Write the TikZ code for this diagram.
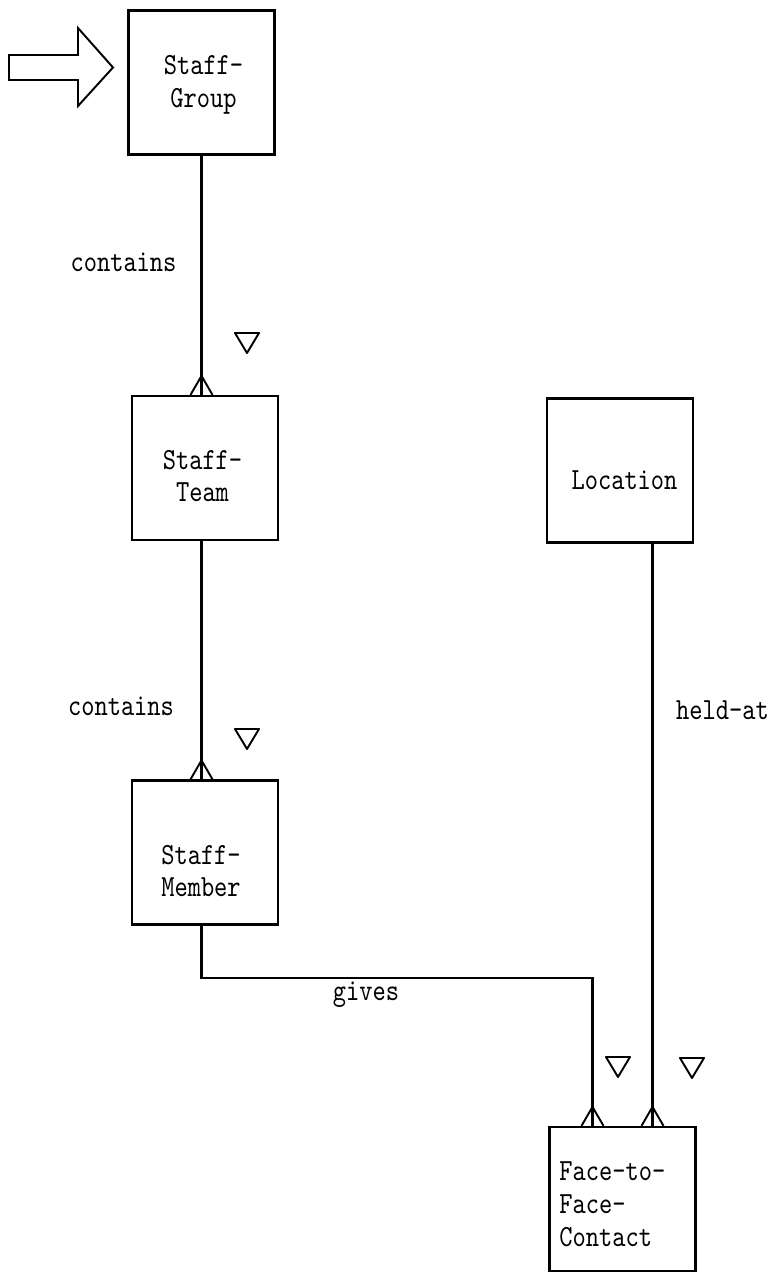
\documentclass[tikz,border=0pt]{standalone}
\usepackage{fontspec}
\newfontfamily\erfont{lmmono10-regular.otf}[FakeStretch=0.82]
\begin{document}
\begin{tikzpicture}[x=0.02cm,y=-0.02cm,
  entity/.style={draw,line width=1.3pt,minimum width=2.92cm,minimum height=2.88cm,inner sep=0pt},
  ename/.style={font=\erfont\fontsize{17.5}{18.7}\selectfont,align=center,inner sep=0pt},
  rname/.style={font=\erfont\fontsize{17.5}{18.7}\selectfont,inner sep=0pt},
  rel/.style={line width=1.2pt},
  crowfoot/.pic={\draw[line width=1.1pt] (-11,0) -- (0,-19) -- (11,0);},
  card/.pic={\draw[line width=1.1pt,line join=round] (-12,-10) -- (12,-10) -- (0,10) -- cycle;}]
  \useasboundingbox (0,0) rectangle (772,1272);

  %%%%%%%%%%%%%entities%%%%%%%%%%%%%%%%%%%%%%
  \node[entity] (grp) at (201.5,82.5) {};
  \node[entity] (team) at (205,468) {};
  \node[entity] (loc) at (620,470.5) {};
  \node[entity] (member) at (205,852.5) {};
  \node[entity] (ftf) at (622.5,1199) {};

  \node[ename] (grp-t) at (203.5,85) {Staff-\\Group};
  \node[ename] (team-t) at (202.5,476) {Staff-\\Team};
  \node[ename] (loc-t) at (624.5,480.5) {Location};
  \node[ename] (member-t) at (201,871) {Staff-\\Member};
  \node[ename,align=left,anchor=west] (ftf-t) at (559,1204) {Face-to-\\Face-\\Contact};

  %%%%%%%%%%%%%entry arrow%%%%%%%%%%%%%%%%%%%%%%
  \draw[line width=1.1pt] (9,55) -- (78,55) -- (78,28) -- (113,67.5) -- (78,106) -- (78,80) -- (9,80) -- cycle;

  %%%%%%%%%%%%%relationships%%%%%%%%%%%%%%%%%%%%%%
  \path (ftf.north) ++(-30,0) coordinate (e3) ++(60,0) coordinate (e4);
  \draw[rel] (grp.south) -- (grp.south |- team.north) coordinate (e1);
  \draw[rel] (grp.south |- team.south) -- (grp.south |- member.north) coordinate (e2);
  \draw[rel] (grp.south |- member.south) -- ++(0,52) -| (e3);
  \draw[rel] (e4 |- loc.south) -- (e4);

  \pic at (e1) {crowfoot};
  \pic at (e2) {crowfoot};
  \pic at (e3) {crowfoot};
  \pic at (e4) {crowfoot};

  \pic at (247,343) {card};
  \pic at (247,739) {card};
  \pic at (618,1067) {card};
  \pic at (692,1068) {card};

  \node[rname] (c1) at (123.5,262.5) {contains};
  \node[rname] (c2) at (121,706.5) {contains};
  \node[rname] (held) at (722.5,710) {held-at};
  \node[rname] (gives) at (366,995) {gives};
\end{tikzpicture}
\end{document}
